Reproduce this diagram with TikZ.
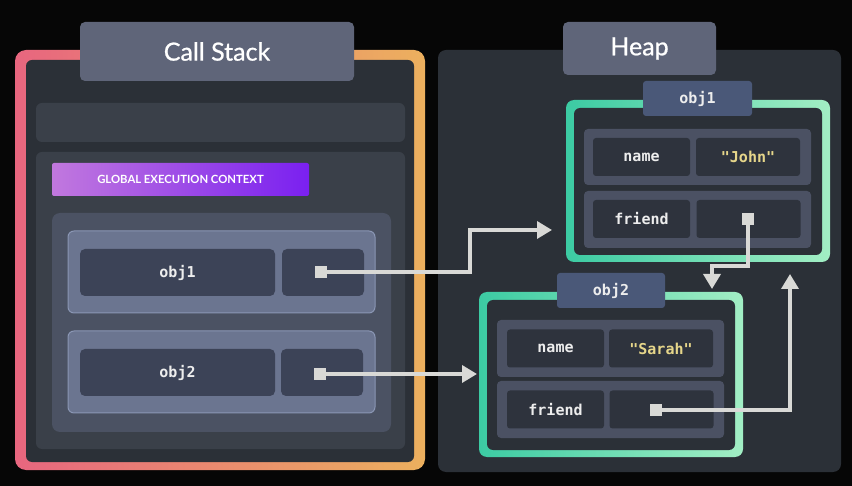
\documentclass[tikz,border=0pt]{standalone}
\usepackage{fontspec}
\setmainfont{Lato}
\newfontfamily\titlefont[FakeBold=0.8]{Lato}
\newfontfamily\monofont{DejaVu Sans Mono}
\usetikzlibrary{arrows.meta}
\definecolor{bgc}{HTML}{060606}
\definecolor{paneldark}{HTML}{2B3037}
\definecolor{titlec}{HTML}{5F6579}
\definecolor{barc}{HTML}{3A4049}
\definecolor{envc}{HTML}{4B5263}
\definecolor{rowc}{HTML}{6B7590}
\definecolor{rowedge}{HTML}{8A96B4}
\definecolor{cellc}{HTML}{3C4357}
\definecolor{hrowc}{HTML}{4B5163}
\definecolor{hcellc}{HTML}{2E333D}
\definecolor{objlab}{HTML}{4A5878}
\definecolor{arrowc}{HTML}{D9D9D6}
\definecolor{strc}{HTML}{E6D68A}
\definecolor{txtc}{HTML}{EDEDED}
\definecolor{green1}{HTML}{3CCBA3}
\definecolor{green2}{HTML}{A2EEC4}
\definecolor{pinkc}{HTML}{E8667F}
\definecolor{orangec}{HTML}{ECB05E}
\definecolor{violet1}{HTML}{C178DE}
\definecolor{violet2}{HTML}{7A20F0}
\tikzset{
  box/.style={rectangle, rounded corners=#1, inner sep=0pt, draw=none},
  box/.default=6pt,
  title/.style={box=5pt, fill=titlec, text=white, font=\titlefont\fontsize{25}{29}\selectfont},
  mono/.style={text=txtc, font=\monofont\bfseries\fontsize{15}{18}\selectfont},
  cscell/.style={box=5pt, fill=cellc, mono},
  hcell/.style={box=3pt, fill=hcellc, mono, minimum width=97pt, minimum height=38pt},
  hval/.style={hcell, minimum width=104pt, text=strc},
  hrow/.style={box=4pt, fill=hrowc, minimum width=227pt, minimum height=57pt},
  csrow/.style={box=6pt, fill=rowc, draw=rowedge, line width=1pt, minimum width=307pt, minimum height=82pt},
  gframe/.style={box=8pt, left color=green1, right color=green2, minimum width=264pt},
  ginner/.style={box=6pt, fill=paneldark, minimum width=248pt},
  olabel/.style={box=3pt, fill=objlab, mono, minimum height=35pt},
  ptrsq/.style={rectangle, fill=arrowc, minimum size=12pt, inner sep=0pt},
  link/.style={draw=arrowc, line width=3.5pt, -{Triangle[length=15pt,width=17pt]}},
}
\begin{document}
\begin{tikzpicture}[x=1pt,y=-1pt]
\fill[bgc] (0,0) rectangle (852,486);
\useasboundingbox (0,0) rectangle (852,486);
% ---- Call stack
\node[box=11pt, left color=pinkc, right color=orangec, minimum width=410pt, minimum height=420pt] (csframe) at (220,260) {};
\node[box=6pt, fill=paneldark, minimum width=388pt, minimum height=402pt] (csinner) at (220,261) {};
\node[title, minimum width=274pt, minimum height=59pt] (cstitle) at (217,51.5) {Call Stack};
\node[box=6pt, fill=barc, minimum width=369pt, minimum height=39pt] (ebar) at (220.5,122.5) {};
\node[box=6pt, fill=barc, minimum width=369pt, minimum height=297pt] (gec) at (220.5,300.5) {};
\node[box=2pt, left color=violet1, right color=violet2, minimum width=257pt, minimum height=33pt, text=white, font=\bfseries\fontsize{11.3}{13}\selectfont] (geclab) at (180.5,179.5) {GLOBAL EXECUTION CONTEXT};
\node[box=8pt, fill=envc, minimum width=339pt, minimum height=219pt] (venv) at (221.5,322.5) {};
\node[csrow] (row1) at (221.5,272) {};
\node[cscell, minimum width=195pt, minimum height=47pt] (c1name) at (177.5,272.5) {obj1};
\node[cscell, minimum width=82pt, minimum height=47pt] (c1ptr) at (323,272.5) {};
\node[csrow] (row2) at (221.5,372) {};
\node[cscell, minimum width=195pt, minimum height=47pt] (c2name) at (177.5,372.5) {obj2};
\node[cscell, minimum width=82pt, minimum height=47pt] (c2ptr) at (322,372.5) {};
\node[ptrsq] (sq1) at (321,272) {};
\node[ptrsq] (sq2) at (320,374) {};
% ---- Heap
\node[box=8pt, fill=paneldark, minimum width=403pt, minimum height=422pt] (heap) at (639.5,261) {};
\node[title, minimum width=153pt, minimum height=53pt] (heaptitle) at (639.5,48.5) {Heap};
% obj1
\node[gframe, minimum height=162pt] (o1frame) at (698,181) {};
\node[ginner, minimum height=147pt] (o1inner) at (698,181.5) {};
\node[olabel, minimum width=109pt] (o1lab) at (697.5,98.5) {obj1};
\node[hrow, minimum height=56pt] (o1row1) at (697.5,157) {};
\node[hcell] (o1name) at (641.5,157) {name};
\node[hval] (o1val) at (748,157) {"John"};
\node[hrow] (o1row2) at (697.5,219.5) {};
\node[hcell] (o1friend) at (641.5,219) {friend};
\node[hval] (o1fval) at (748.5,219) {};
\node[ptrsq] (sq3) at (748,219) {};
% obj2
\node[gframe, minimum height=165pt] (o2frame) at (611,374.5) {};
\node[ginner, minimum height=150pt] (o2inner) at (611,375) {};
\node[olabel, minimum width=108pt] (o2lab) at (611,290.5) {obj2};
\node[hrow] (o2row1) at (610.5,348.5) {};
\node[hcell] (o2name) at (555.5,348.5) {name};
\node[hval] (o2val) at (661,348.5) {"Sarah"};
\node[hrow] (o2row2) at (610.5,409.5) {};
\node[hcell] (o2friend) at (555.5,409.5) {friend};
\node[hval] (o2fval) at (661.5,409.5) {};
\node[ptrsq] (sq4) at (656,410) {};
% ---- connectors
\coordinate (k1) at (470,272);
\coordinate (t1) at (552,230);
\coordinate (t2) at (477,374);
\coordinate (k3) at (748,266);
\coordinate (t3) at (712,289);
\coordinate (k4) at (790,410);
\coordinate (t4) at (790,274);
\draw[link] (sq1.center) -- (k1) |- (t1);
\draw[link] (sq2.center) -- (t2);
\draw[link] (sq3.center) -- (k3) -| (t3);
\draw[link] (sq4.center) -- (k4) -- (t4);
\node[ptrsq] at (sq1) {};
\node[ptrsq] at (sq2) {};
\node[ptrsq] at (sq3) {};
\node[ptrsq] at (sq4) {};
\end{tikzpicture}
\end{document}
